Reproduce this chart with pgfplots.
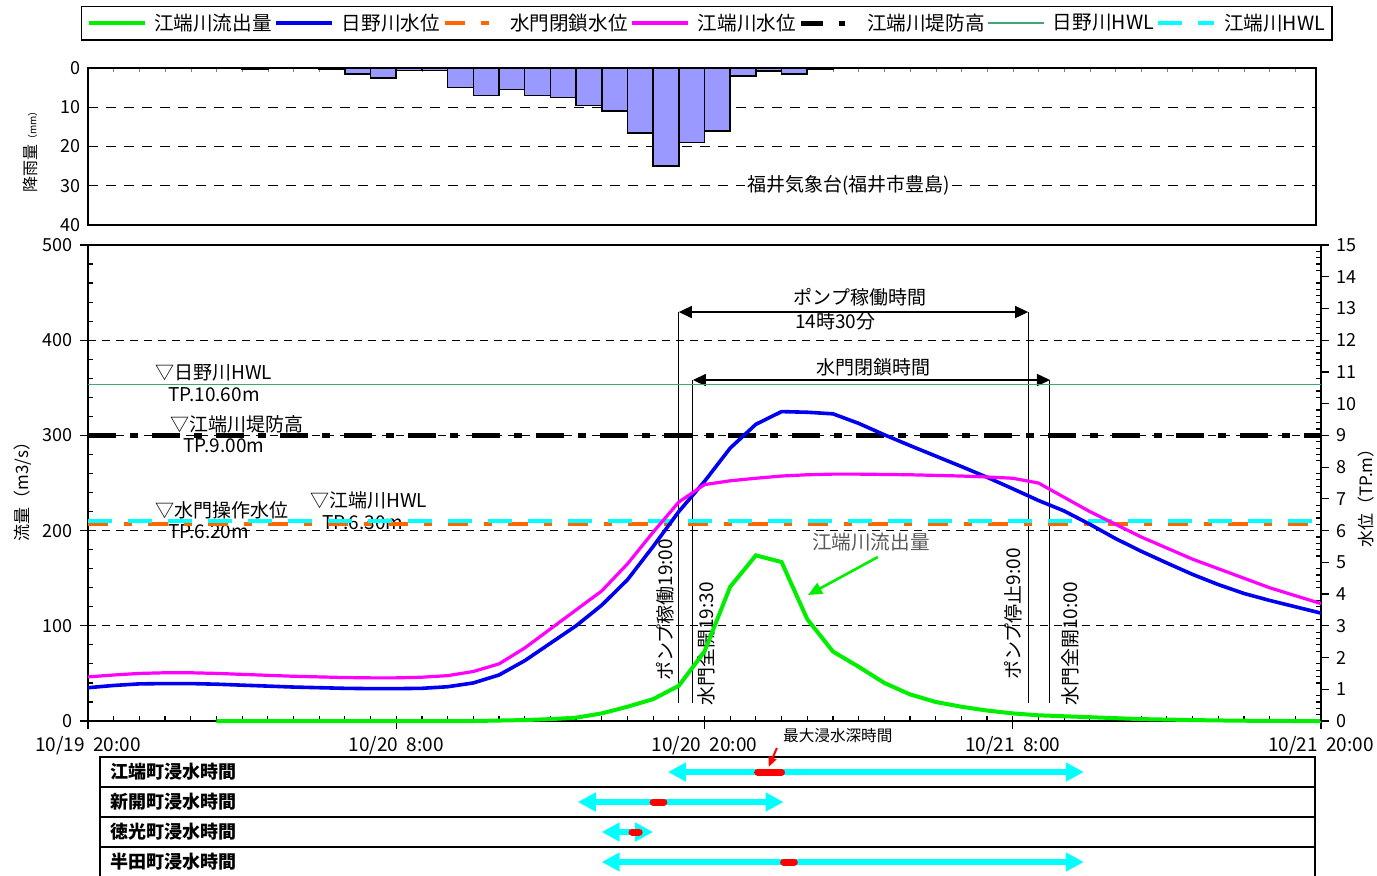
\documentclass[border=0pt]{standalone}
\usepackage{fontspec}
\setmainfont{Noto Sans CJK JP}
\usepackage{pgfplots}
\usepackage{pgfplotstable}
\pgfplotsset{compat=1.18}
\usetikzlibrary{arrows.meta}

\definecolor{cgreen}{RGB}{0,238,0}
\definecolor{cblue}{RGB}{0,0,240}
\definecolor{cmag}{RGB}{255,0,255}
\definecolor{corange}{RGB}{255,102,0}
\definecolor{ccyan}{RGB}{0,255,255}
\definecolor{chwl}{RGB}{60,170,110}
\definecolor{crain}{RGB}{153,153,255}

% rainfall (mm/h), x = hour from 10/19 20:00 (bar centre)
\pgfplotstableread{
h r
6.5 0.3
9.5 0.3
10.5 1.5
11.5 2.5
12.5 0.6
13.5 0.6
14.5 5
15.5 7
16.5 5.5
17.5 7
18.5 7.5
19.5 9.5
20.5 11
21.5 16.5
22.5 25
23.5 19
24.5 16
25.5 2
26.5 0.8
27.5 1.5
28.5 0.3
}\raintab

% outflow of Ebata river (m3/s)
\pgfplotstableread{
h q
5 0
8 0
12 0
15 0
16 0.5
17 1
18 2
19 3.5
20 8
21 15
22 23
23 37
24 73
25 141
26 174
27 167
28 107
29 73
30 57
31 40
32 28
33 20
34 15
35 11
36 8
37 6
38 5
39 4
40 3
41 2
42 1.5
43 1
44 0.6
45 0.3
46 0.1
47 0
48 0
}\flowtab

% water levels (TP.m): Hino river (b), Ebata river (m)
\pgfplotstableread{
h b m
0 1.05 1.39
1 1.12 1.45
2 1.17 1.50
3 1.18 1.52
4 1.18 1.52
5 1.16 1.50
6 1.13 1.47
7 1.10 1.44
8 1.07 1.41
9 1.05 1.39
10 1.03 1.37
11 1.02 1.36
12 1.02 1.36
13 1.03 1.38
14 1.08 1.43
15 1.20 1.56
16 1.45 1.80
17 1.90 2.30
18 2.45 2.90
19 3.00 3.50
20 3.65 4.10
21 4.45 4.95
22 5.50 5.95
23 6.60 6.90
24 7.55 7.45
25 8.60 7.57
26 9.35 7.65
27 9.75 7.72
28 9.73 7.76
29 9.68 7.78
30 9.38 7.78
31 9.02 7.77
32 8.68 7.76
33 8.35 7.74
34 8.02 7.72
35 7.68 7.69
36 7.32 7.65
37 6.95 7.50
38 6.62 7.05
39 6.20 6.60
40 5.75 6.20
41 5.35 5.80
42 4.98 5.45
43 4.62 5.10
44 4.30 4.80
45 4.02 4.50
46 3.80 4.20
47 3.60 3.95
48 3.40 3.70
}\leveltab

\newcommand{\fs}[1]{\fontsize{#1}{#1}\selectfont}

\begin{document}
\begin{tikzpicture}

%================ rainfall axis =================
\begin{axis}[
  at={(44pt,-112.5pt)}, anchor=south west,
  width=614pt, height=78.5pt, scale only axis,
  xmin=0, xmax=47.805, ymin=0, ymax=40, y dir=reverse,
  axis line style={line width=0.9pt},
  xtick={1,...,47}, xticklabels={}, xtick pos=right,
  tick align=inside, major tick length=2pt,
  ytick={0,10,20,30,40}, ytick style={draw=none},
  ymajorgrids, major grid style={black, line width=0.4pt, dash pattern=on 5pt off 4pt},
  ticklabel style={font=\fs{9}}, /pgf/number format/assume math mode=true,
  ylabel={降雨量{\fs{5}（mm）}},
  ylabel style={at={(axis description cs:-0.047,0.48)}, anchor=center, font=\fs{8}},
  clip=false,
]
\addplot[ybar, bar width=1, fill=crain, draw=black, line width=0.8pt] table[x=h,y=r] {\raintab};
\node[fill=white, inner sep=1pt, font=\fs{9.5}] at (axis cs:29.62,30.0) {福井気象台(福井市豊島)};
\end{axis}

%================ main axis (flow, left) =================
\begin{axis}[
  at={(44pt,-360.5pt)}, anchor=south west,
  width=616.5pt, height=238pt, scale only axis,
  xmin=0, xmax=48, ymin=0, ymax=500,
  clip=false,
  axis line style={line width=0.9pt},
  xtick={0,12,24,36,48},
  xticklabels={10/19\ \ 20:00,10/20\ \ 8:00,10/20\ \ 20:00,10/21\ \ 8:00,10/21\ \ 20:00},
  minor xtick={1,...,47},
  ytick={0,100,...,500},
  minor ytick={20,40,60,80,120,140,160,180,220,240,260,280,320,340,360,380,420,440,460,480},
  xtick pos=left, ytick pos=left,
  tick align=outside, major tick length=4pt, minor tick length=-2.5pt,
  tick style={black, line width=0.6pt},
  ymajorgrids, major grid style={black, line width=0.4pt, dash pattern=on 4pt off 3pt},
  ticklabel style={font=\fs{9}}, /pgf/number format/assume math mode=true,
  xticklabel style={font=\fs{9.5}},
  ylabel={流量（m3/s）},
  ylabel style={at={(axis description cs:-0.0527,0.49)}, anchor=center, font=\fs{8.5}},
  legend columns=7,
  legend style={at={(-0.0057,1.5021)}, anchor=north west, draw=black, line width=0.6pt,
    fill=white, font=\fs{9.8}, inner xsep=2.5pt, inner ysep=2pt,
    nodes={inner xsep=1pt, inner ysep=1.5pt},
    /tikz/every even column/.append style={column sep=0.3pt},
    /tikz/every odd column/.append style={column sep=2.8pt}},
  legend image code/.code={\draw[#1] (0pt,0pt) -- (28pt,0pt);},
]
\addlegendimage{cgreen, line width=2pt}
\addlegendentry{江端川流出量}
\addlegendimage{cblue, line width=2pt}
\addlegendentry{日野川水位}
\addlegendimage{corange, line width=2pt, dash pattern=on 10pt off 8pt on 4pt off 8pt}
\addlegendentry{水門閉鎖水位}
\addlegendimage{cmag, line width=2pt}
\addlegendentry{江端川水位}
\addlegendimage{black, line width=2.5pt, dash pattern=on 11pt off 8pt on 3pt off 8pt}
\addlegendentry{江端川堤防高}
\addlegendimage{chwl, line width=1pt}
\addlegendentry{日野川HWL}
\addlegendimage{ccyan, line width=2pt, dash pattern=on 12pt off 8pt}
\addlegendentry{江端川HWL}

% annotations
\begin{scope}[every node/.style={inner sep=0pt, font=\fs{9.5}}]
\node[anchor=west] at (axis cs:2.61,365.5) {▽日野川HWL};
\node[anchor=west] at (axis cs:3.11,342.4) {TP.10.60m};
\node[anchor=west] at (axis cs:3.19,312) {▽江端川堤防高};
\node[anchor=west] at (axis cs:3.70,288.9) {TP.9.00m};
\node[anchor=west] at (axis cs:2.61,221.6) {▽水門操作水位};
\node[anchor=west] at (axis cs:3.11,198.5) {TP.6.20m};
\node[anchor=west] at (axis cs:8.64,232.1) {▽江端川HWL};
\node[anchor=west] at (axis cs:9.11,208) {TP.6.30m};
\end{scope}

% pump / gate events
\addplot[black, line width=0.5pt, forget plot] coordinates {(23,18.9) (23,429.6)};
\addplot[black, line width=0.5pt, forget plot] coordinates {(23.55,18.9) (23.55,358.2)};
\addplot[black, line width=0.5pt, forget plot] coordinates {(36.6,18.9) (36.6,429.6)};
\addplot[black, line width=0.5pt, forget plot] coordinates {(37.45,18.9) (37.45,358.2)};
\addplot[black, line width=0.8pt, {Triangle[length=6.5pt,width=6pt]}-{Triangle[length=6.5pt,width=6pt]}, forget plot] coordinates {(23,429.6) (36.6,429.6)};
\addplot[black, line width=0.8pt, {Triangle[length=6.5pt,width=6pt]}-{Triangle[length=6.5pt,width=6pt]}, forget plot] coordinates {(23.55,358.2) (37.45,358.2)};
\node[font=\fs{9.5}] at (axis cs:30.05,445.4) {ポンプ稼働時間};
\node[anchor=west, inner sep=0pt, font=\fs{9.5}] at (axis cs:27.52,420) {14時30分};
\node[font=\fs{9.5}] at (axis cs:30.56,371.8) {水門閉鎖時間};
\node[rotate=90, font=\fs{9.5}] at (axis cs:22.46,116.6) {ポンプ稼働19:00};
\node[rotate=90, font=\fs{9.5}] at (axis cs:24.06,80.9) {水門全開19:30};
\node[rotate=90, font=\fs{9.5}] at (axis cs:36.01,112.4) {ポンプ停止9:00};
\node[rotate=90, font=\fs{9.5}] at (axis cs:38.23,80.9) {水門全開10:00};

% outflow
\addplot[cgreen, line width=2pt, forget plot] table[x=h,y=q] {\flowtab};
\node[font=\fs{9.8}, text=black!65] at (axis cs:30.48,188) {江端川流出量};
\addplot[cgreen, line width=1.3pt, -{Triangle[length=7pt,width=6pt]}, forget plot] coordinates {(30.75,172.3) (28.03,132.4)};
\end{axis}

%================ main axis (water level, right) =================
\begin{axis}[
  at={(44pt,-360.5pt)}, anchor=south west,
  width=616.5pt, height=238pt, scale only axis,
  xmin=0, xmax=48, ymin=0, ymax=15,
  axis x line=none, axis y line*=right,
  axis line style={line width=0.9pt},
  ytick={0,1,...,15}, minor y tick num=4,
  tick align=outside, major tick length=4pt, minor tick length=-2.5pt,
  tick style={black, line width=0.6pt},
  ticklabel style={font=\fs{9}}, /pgf/number format/assume math mode=true,
  ylabel={水位（TP.m）},
  ylabel style={at={(axis description cs:1.0365,0.477)}, anchor=center, font=\fs{8.5}},
  clip=false,
]
\addplot[chwl, line width=0.8pt] coordinates {(0,10.6) (48,10.6)};
\addplot[corange, line width=2pt, dash pattern=on 10pt off 8pt on 4pt off 8pt] coordinates {(0,6.2) (48,6.2)};
\addplot[ccyan, line width=2pt, dash pattern=on 12pt off 8pt] coordinates {(0,6.3) (48,6.3)};
\addplot[black, line width=2.5pt, dash pattern=on 14pt off 7pt on 4pt off 7pt] coordinates {(0,9) (48,9)};
\addplot[cblue, line width=1.8pt] table[x=h,y=b] {\leveltab};
\addplot[cmag, line width=1.6pt] table[x=h,y=m] {\leveltab};
\end{axis}

%================ inundation time table =================
\begin{axis}[
  at={(50pt,-438.5pt)}, anchor=south west,
  width=607.5pt, height=60pt, scale only axis,
  xmin=0.467, xmax=47.77, ymin=0, ymax=4, y dir=reverse,
  xtick=\empty, ytick={1,2,3}, yticklabels={}, ytick style={draw=none},
  ymajorgrids, major grid style={black, line width=0.9pt},
  axis line style={line width=0.9pt},
  clip=false,
]
\begin{scope}[every node/.style={anchor=west, inner sep=0pt, font=\bfseries\fs{9}}]
\node at (axis cs:0.86,0.5) {江端町浸水時間};
\node at (axis cs:0.86,1.5) {新開町浸水時間};
\node at (axis cs:0.86,2.5) {徳光町浸水時間};
\node at (axis cs:0.86,3.5) {半田町浸水時間};
\end{scope}
% flooding durations
\addplot[ccyan, line width=3pt, {Triangle[length=9pt,width=9pt]}-{Triangle[length=9pt,width=9pt]}] coordinates {(22.58,0.5) (38.77,0.5)};
\addplot[ccyan, line width=3pt, {Triangle[length=9pt,width=9pt]}-{Triangle[length=9pt,width=9pt]}] coordinates {(19.07,1.5) (27.08,1.5)};
\addplot[ccyan, line width=3pt, {Triangle[length=9pt,width=9pt]}-{Triangle[length=9pt,width=9pt]}] coordinates {(20.0,2.5) (22.0,2.5)};
\addplot[ccyan, line width=3pt, {Triangle[length=9pt,width=9pt]}-{Triangle[length=9pt,width=9pt]}] coordinates {(20.0,3.5) (38.77,3.5)};
% time of maximum depth
\addplot[red, line width=3.5pt, line cap=round] coordinates {(26.07,0.5) (27.0,0.5)};
\addplot[red, line width=3.5pt, line cap=round] coordinates {(22.0,1.5) (22.42,1.5)};
\addplot[red, line width=3.5pt, line cap=round] coordinates {(21.18,2.5) (21.46,2.5)};
\addplot[red, line width=3.5pt, line cap=round] coordinates {(27.08,3.5) (27.5,3.5)};
\node[anchor=west, inner sep=0pt, font=\fs{7.8}] at (axis cs:27.05,-0.73) {最大浸水深時間};
\addplot[red, line width=1pt, -{Triangle[length=5pt,width=4pt]}] coordinates {(26.82,-0.3) (26.5,0.33)};
\end{axis}

\pgfresetboundingbox
\path[use as bounding box] (0pt,0pt) rectangle (688.5pt,-437.5pt);
\end{tikzpicture}
\end{document}
